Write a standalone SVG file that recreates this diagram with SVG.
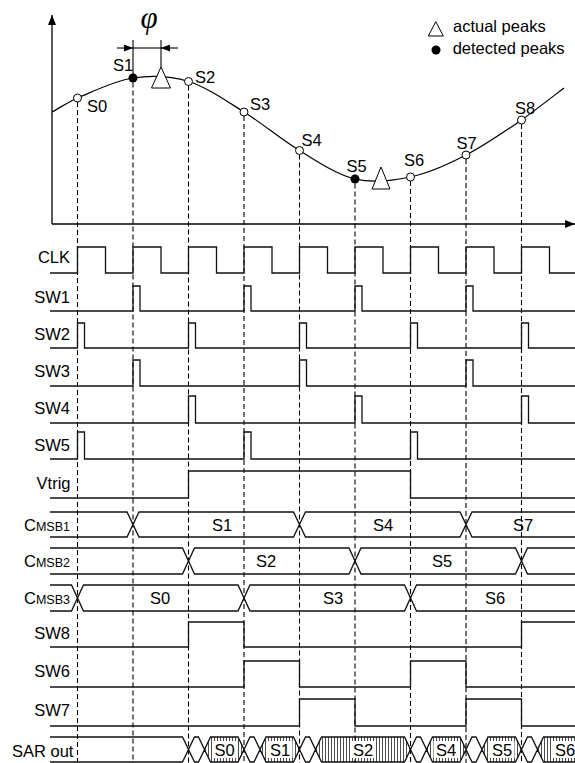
<svg xmlns="http://www.w3.org/2000/svg" width="575" height="763" viewBox="0 0 575 763">
<style>
text{font-family:"Liberation Sans",Arial,sans-serif;font-size:16.5px;fill:#000}
.lbl{text-anchor:end}
.mid{text-anchor:middle}
.sub{font-size:12.5px}
.wave{fill:none;stroke:#111;stroke-width:1.3}
.guide{fill:none;stroke:#000;stroke-width:1.1;stroke-dasharray:5 3}
.open{fill:#fff;stroke:#000;stroke-width:1}
.dot{fill:#000}
.tri{fill:#fff;stroke:#000;stroke-width:1}
.ax{fill:none;stroke:#000;stroke-width:1.3}
.hatch{fill:url(#hatch);stroke:none}
.wbg{fill:#fff}
</style>
<defs>
<marker id="arr" viewBox="0 0 10 8" refX="10" refY="4" markerWidth="10" markerHeight="8" markerUnits="userSpaceOnUse" orient="auto"><path d="M0 0 L10 4 L0 8 z" fill="#000"/></marker>
<marker id="darr" viewBox="0 0 9 7" refX="9" refY="3.5" markerWidth="9" markerHeight="7" markerUnits="userSpaceOnUse" orient="auto"><path d="M0 0 L9 3.5 L0 7 z" fill="#000"/></marker>
<pattern id="hatch" patternUnits="userSpaceOnUse" width="3" height="10"><line x1="1.5" y1="0" x2="1.5" y2="10" stroke="#000" stroke-width="0.7"/></pattern>
</defs>
<rect width="575" height="763" fill="#fff"/>

<g id="connectors">
<path class="guide" d="M77.5 102 V763 M133 82.5 V763 M188.5 85.5 V763 M244 116 V763 M299.5 154.5 V763 M355 183.5 V763 M410.5 181 V763 M466 159 V763 M521.5 124 V763"/>
</g>

<g id="axes">
<line class="ax" x1="52" y1="224" x2="52" y2="15" marker-end="url(#arr)"/>
<line class="ax" x1="52" y1="224" x2="575" y2="224" marker-end="url(#arr)"/>
</g>

<g id="signal-curve">
<path fill="none" stroke="#000" stroke-width="1.2" d="M52 112 C60.7 107.3 69.5 101.3 77.5 98 C94.5 90.85 114.7 80.75 133 78 C151.7 75.25 169.7 75.8 188.5 81.5 C206.7 87.2 225.7 100.5 244 112 C262.7 123.5 280.7 139.3 299.5 150.5 C317.7 161.7 336.7 174.6 355 179 C373.7 183.4 391.7 181 410.5 177 C428.7 173 447.7 164.5 466 155 C484.7 145.5 505 131.2 521.5 120 C533.5 111.5 550 98.7 564 88"/>
</g>

<g id="phase-dimension">
<line stroke="#000" stroke-width="1.1" x1="133" y1="40" x2="133" y2="74"/>
<line stroke="#000" stroke-width="1.1" x1="161" y1="40" x2="161" y2="67"/>
<line stroke="#000" stroke-width="1.1" x1="133" y1="48" x2="161" y2="48"/>
<line stroke="#000" stroke-width="1.1" x1="117" y1="48" x2="133" y2="48" marker-end="url(#darr)"/>
<line stroke="#000" stroke-width="1.1" x1="178" y1="48" x2="161" y2="48" marker-end="url(#darr)"/>
<text x="149" y="28" class="mid" style="font-family:'Liberation Serif','Times New Roman',serif;font-style:italic;font-size:31px">φ</text>
</g>

<g id="peaks">
<polygon class="tri" points="161,67 151.5,88 170.5,88"/>
<polygon class="tri" points="381,167 372,189 390,189"/>
</g>

<g id="samples">
<circle class="open" cx="77.5" cy="98" r="4"/>
<circle class="dot" cx="133" cy="78" r="4.5"/>
<circle class="open" cx="188.5" cy="81.5" r="4"/>
<circle class="open" cx="244" cy="112" r="4"/>
<circle class="open" cx="299.5" cy="150.5" r="4"/>
<circle class="dot" cx="355" cy="179" r="4.5"/>
<circle class="open" cx="410.5" cy="177" r="4"/>
<circle class="open" cx="466" cy="155" r="4"/>
<circle class="open" cx="521.5" cy="120" r="4"/>
<text x="87" y="112">S0</text>
<text x="113" y="71">S1</text>
<text x="195" y="83">S2</text>
<text x="250" y="110">S3</text>
<text x="301.5" y="146">S4</text>
<text x="346.5" y="172">S5</text>
<text x="404" y="166">S6</text>
<text x="456.5" y="149">S7</text>
<text x="515" y="113.5">S8</text>
</g>

<g id="legend">
<polygon class="tri" points="435.8,21.7 428.3,36 443.3,36"/>
<text x="453" y="32">actual peaks</text>
<circle class="dot" cx="436" cy="50" r="4.5"/>
<text x="452.7" y="54">detected peaks</text>
</g>

<g id="row-clk">
<text class="lbl" x="70" y="263">CLK</text>
<path class="wave" d="M50 273 H77.5 V247 H105.5 V273 H133 V247 H161 V273 H188.5 V247 H216.5 V273 H244 V247 H272 V273 H299.5 V247 H327.5 V273 H355 V247 H383 V273 H410.5 V247 H438.5 V273 H466 V247 H494 V273 H521.5 V247 H549.5 V273 H575"/>
</g>
<g id="row-sw1">
<text class="lbl" x="70" y="302.5">SW1</text>
<path class="wave" d="M50 311 H133 V286 H140 V311 H244 V286 H251 V311 H355 V286 H362 V311 H466 V286 H473 V311 H575"/>
</g>
<g id="row-sw2">
<text class="lbl" x="70" y="340">SW2</text>
<path class="wave" d="M50 348 H77.5 V323 H84.5 V348 H188.5 V323 H195.5 V348 H299.5 V323 H306.5 V348 H410.5 V323 H417.5 V348 H521.5 V323 H528.5 V348 H575"/>
</g>
<g id="row-sw3">
<text class="lbl" x="70" y="376.5">SW3</text>
<path class="wave" d="M50 386 H133 V360 H140 V386 H299.5 V360 H306.5 V386 H466 V360 H473 V386 H575"/>
</g>
<g id="row-sw4">
<text class="lbl" x="70" y="414">SW4</text>
<path class="wave" d="M50 423 H188.5 V396 H195.5 V423 H355 V396 H362 V423 H521.5 V396 H528.5 V423 H575"/>
</g>
<g id="row-sw5">
<text class="lbl" x="70" y="450.5">SW5</text>
<path class="wave" d="M50 459 H77.5 V432 H84.5 V459 H244 V432 H251 V459 H410.5 V432 H417.5 V459 H575"/>
</g>
<g id="row-vtrig">
<text class="lbl" x="70.5" y="489">Vtrig</text>
<path class="wave" d="M50 498 H188.5 V471 H410.5 V498 H575"/>
</g>
<g id="row-cmsb1">
<text x="24" y="531">C<tspan class="sub">MSB1</tspan></text>
<path class="wave" d="M50 512 H127 L139 537 H293.5 L305.5 512 H460 L472 537 H575 M50 537 H127 L139 512 H293.5 L305.5 537 H460 L472 512 H575"/>
<text class="mid" x="222" y="531">S1</text>
<text class="mid" x="383" y="531">S4</text>
<text class="mid" x="523" y="531">S7</text>
</g>
<g id="row-cmsb2">
<text x="24" y="567">C<tspan class="sub">MSB2</tspan></text>
<path class="wave" d="M50 548 H182.5 L194.5 574 H349 L361 548 H515.5 L527.5 574 H575 M50 574 H182.5 L194.5 548 H349 L361 574 H515.5 L527.5 548 H575"/>
<text class="mid" x="266" y="567">S2</text>
<text class="mid" x="442" y="567">S5</text>
</g>
<g id="row-cmsb3">
<text x="24" y="603.5">C<tspan class="sub">MSB3</tspan></text>
<path class="wave" d="M50 585 H71.5 L83.5 611 H238 L250 585 H404.5 L416.5 611 H575 M50 611 H71.5 L83.5 585 H238 L250 611 H404.5 L416.5 585 H575"/>
<text class="mid" x="160" y="603.5">S0</text>
<text class="mid" x="333" y="603.5">S3</text>
<text class="mid" x="495" y="603.5">S6</text>
</g>
<g id="row-sw8">
<text class="lbl" x="70" y="638.5">SW8</text>
<path class="wave" d="M50 647 H188.5 V622 H244 V647 H521.5 V622 H575"/>
</g>
<g id="row-sw6">
<text class="lbl" x="70" y="677">SW6</text>
<path class="wave" d="M50 687 H244 V661 H299.5 V687 H410.5 V661 H466 V687 H575"/>
</g>
<g id="row-sw7">
<text class="lbl" x="70" y="716">SW7</text>
<path class="wave" d="M50 726 H299.5 V699 H355 V726 H466 V699 H521.5 V726 H575"/>
</g>
<g id="row-sarout">
<text x="12" y="756.5">SAR out</text>
<polygon class="hatch" points="204.5,749.5 210.5,737 238,737 244,749.5 238,762 210.5,762"/>
<polygon class="hatch" points="260,749.5 266,737 293.5,737 299.5,749.5 293.5,762 266,762"/>
<polygon class="hatch" points="315.5,749.5 321.5,737 404.5,737 410.5,749.5 404.5,762 321.5,762"/>
<polygon class="hatch" points="426.5,749.5 432.5,737 460,737 466,749.5 460,762 432.5,762"/>
<polygon class="hatch" points="482,749.5 488,737 515.5,737 521.5,749.5 515.5,762 488,762"/>
<polygon class="hatch" points="537.5,749.5 543.5,737 600,737 600,762 543.5,762"/>
<rect class="wbg" x="212" y="741" width="25" height="17"/>
<rect class="wbg" x="267.5" y="741" width="25" height="17"/>
<rect class="wbg" x="350.5" y="741" width="25" height="17"/>
<rect class="wbg" x="433.5" y="741" width="25" height="17"/>
<rect class="wbg" x="489.5" y="741" width="25" height="17"/>
<rect class="wbg" x="553" y="741" width="25" height="17"/>
<path class="wave" d="M50 737 H182.5 L194.5 762 H198.5 L210.5 737 H238 L250 762 H254 L266 737 H293.5 L305.5 762 H309.5 L321.5 737 H404.5 L416.5 762 H420.5 L432.5 737 H460 L472 762 H476 L488 737 H515.5 L527.5 762 H531.5 L543.5 737 H575 M50 762 H182.5 L194.5 737 H198.5 L210.5 762 H238 L250 737 H254 L266 762 H293.5 L305.5 737 H309.5 L321.5 762 H404.5 L416.5 737 H420.5 L432.5 762 H460 L472 737 H476 L488 762 H515.5 L527.5 737 H531.5 L543.5 762 H575"/>
<text class="mid" x="224.5" y="755.5">S0</text>
<text class="mid" x="280" y="755.5">S1</text>
<text class="mid" x="363" y="755.5">S2</text>
<text class="mid" x="446" y="755.5">S4</text>
<text class="mid" x="502" y="755.5">S5</text>
<text x="555" y="755.5">S6</text>
</g>
</svg>
